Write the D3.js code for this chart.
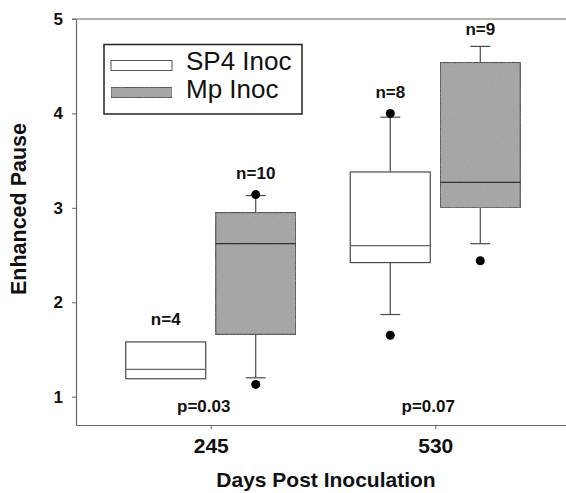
<!DOCTYPE html>
<html>
<head>
<meta charset="utf-8">
<script src="https://cdn.jsdelivr.net/npm/d3@7"></script>
<style>
  html, body { margin: 0; padding: 0; background: #fff; }
  svg { display: block; font-family: "Liberation Sans", Arial, sans-serif; }
</style>
</head>
<body>
<svg id="chart" width="566" height="493"></svg>
<script>
// ---- data ----
const categories = ["245", "530"];
const series = ["SP4 Inoc", "Mp Inoc"];
// box stats per category, per series
const sp4Q1 = [1.19, 2.42];
const sp4Median = [1.29, 2.60];
const sp4Q3 = [1.58, 3.38];
const sp4WhiskerLow = [null, 1.87];
const sp4WhiskerHigh = [null, 3.96];
const sp4Outliers = [[], [1.65, 4.00]];
const sp4N = [4, 8];

const mpQ1 = [1.66, 3.00];
const mpMedian = [2.62, 3.27];
const mpQ3 = [2.95, 4.54];
const mpWhiskerLow = [1.20, 2.62];
const mpWhiskerHigh = [3.13, 4.71];
const mpOutliers = [[1.13, 3.14], [2.44]];
const mpN = [10, 9];

const pValues = ["p=0.03", "p=0.07"];
const yTicks = [1, 2, 3, 4, 5];

(function () {
// ---- build table ----
const boxes = [];
categories.forEach((c, i) => {
  boxes.push({cat: c, s: series[0], q1: sp4Q1[i], med: sp4Median[i], q3: sp4Q3[i],
    lo: sp4WhiskerLow[i], hi: sp4WhiskerHigh[i], out: sp4Outliers[i], n: sp4N[i]});
  boxes.push({cat: c, s: series[1], q1: mpQ1[i], med: mpMedian[i], q3: mpQ3[i],
    lo: mpWhiskerLow[i], hi: mpWhiskerHigh[i], out: mpOutliers[i], n: mpN[i]});
});

const fills = {"SP4 Inoc": "#ffffff", "Mp Inoc": "#a4a4a4"};
const ink = "#111";

const svg = d3.select("#chart");

// noise texture for grey fill
const defs = svg.append("defs");
const f = defs.append("filter").attr("id", "grain").attr("x", 0).attr("y", 0).attr("width", 1).attr("height", 1);
f.append("feTurbulence").attr("type", "fractalNoise").attr("baseFrequency", 0.9).attr("numOctaves", 2).attr("seed", 3).attr("result", "noise");
f.append("feColorMatrix").attr("in", "noise").attr("type", "matrix")
  .attr("values", "0 0 0 0 0.5  0 0 0 0 0.5  0 0 0 0 0.5  0.35 0.35 0.35 0 -0.45").attr("result", "n2");
f.append("feComposite").attr("in", "n2").attr("in2", "SourceGraphic").attr("operator", "atop");

const pLeft = 76, pTop = 19, pBottom = 425, pRight = 570;

const x = d3.scalePoint().domain(categories).range([pLeft, pRight]).padding(0.6);
const xs = d3.scaleBand().domain(series).range([-85, 85]).paddingInner(1/9);
const y = d3.scaleLinear().domain([0.7, 5]).range([pBottom, pTop]);

// frame top line
svg.append("line").attr("x1", pLeft - 4).attr("x2", 566).attr("y1", pTop).attr("y2", pTop)
  .attr("stroke", "#666").attr("stroke-width", 1.2);

// y axis
const gy = svg.append("g").attr("transform", `translate(${pLeft},0)`)
  .call(d3.axisLeft(y).tickValues(yTicks).tickFormat(d3.format("d")).tickSize(4).tickSizeOuter(0).tickPadding(9));
gy.select(".domain").attr("stroke", "#666").attr("stroke-width", 1.2);
gy.selectAll(".tick line").attr("stroke", "#666");
gy.selectAll(".tick text").attr("font-size", 17).attr("font-weight", "bold").attr("fill", ink)
  .attr("font-family", "Liberation Sans, Arial, sans-serif");

// x axis
const gx = svg.append("g").attr("transform", `translate(0,${pBottom})`)
  .call(d3.axisBottom(x).tickSize(4).tickSizeOuter(0).tickPadding(9));
gx.select(".domain").attr("stroke", "#666").attr("stroke-width", 1.2);
gx.selectAll(".tick line").attr("stroke", "#666");
gx.selectAll(".tick text").attr("font-size", 21).attr("font-weight", "bold").attr("fill", ink)
  .attr("font-family", "Liberation Sans, Arial, sans-serif");

// axis titles
svg.append("text").attr("x", 326).attr("y", 487).attr("text-anchor", "middle")
  .attr("font-size", 21).attr("font-weight", "bold").attr("fill", ink).text("Days Post Inoculation");
svg.append("text").attr("transform", `translate(26,209) rotate(-90)`).attr("text-anchor", "middle")
  .attr("font-size", 21.5).attr("font-weight", "bold").attr("fill", ink).text("Enhanced Pause");

// boxes
const g = svg.append("g");
boxes.forEach(b => {
  const x0 = x(b.cat) + xs(b.s);
  const w = xs.bandwidth();
  const cx = x0 + w / 2;
  const gb = g.append("g");
  const stroke = "#4a4a4a";
  if (b.hi != null) {
    gb.append("line").attr("x1", cx).attr("x2", cx).attr("y1", y(b.q3)).attr("y2", y(b.hi)).attr("stroke", stroke).attr("stroke-width", 1.2);
    gb.append("line").attr("x1", cx - 10).attr("x2", cx + 10).attr("y1", y(b.hi)).attr("y2", y(b.hi)).attr("stroke", stroke).attr("stroke-width", 1.2);
  }
  if (b.lo != null) {
    gb.append("line").attr("x1", cx).attr("x2", cx).attr("y1", y(b.q1)).attr("y2", y(b.lo)).attr("stroke", stroke).attr("stroke-width", 1.2);
    gb.append("line").attr("x1", cx - 10).attr("x2", cx + 10).attr("y1", y(b.lo)).attr("y2", y(b.lo)).attr("stroke", stroke).attr("stroke-width", 1.2);
  }
  const r = gb.append("rect").attr("x", x0).attr("y", y(b.q3)).attr("width", w).attr("height", y(b.q1) - y(b.q3))
    .attr("fill", fills[b.s]).attr("stroke", stroke).attr("stroke-width", 1.2);
  if (b.s === series[1]) r.attr("filter", "url(#grain)");
  gb.append("line").attr("x1", x0).attr("x2", x0 + w).attr("y1", y(b.med)).attr("y2", y(b.med))
    .attr("stroke", b.s === series[1] ? "#333" : "#666").attr("stroke-width", 1.2);
  b.out.forEach(o => {
    gb.append("circle").attr("cx", cx).attr("cy", y(o)).attr("r", 4.5).attr("fill", "#000");
  });
  const topVal = d3.max([b.q3, b.hi == null ? -Infinity : b.hi, ...b.out]);
  const extra = b.out.length && d3.max(b.out) >= topVal ? 4.5 : 0;
  const noWhisk = b.hi == null ? 6 : 0;
  gb.append("text").attr("x", cx).attr("y", y(topVal) - extra - 11 - noWhisk).attr("text-anchor", "middle")
    .attr("font-size", 17).attr("font-weight", "bold").attr("fill", ink).text("n=" + b.n);
});

// p values
categories.forEach((c, i) => {
  svg.append("text").attr("x", x(c) - 7).attr("y", pBottom - 13).attr("text-anchor", "middle")
    .attr("font-size", 17).attr("font-weight", "bold").attr("fill", ink).text(pValues[i]);
});

// legend
const lg = svg.append("g");
lg.append("rect").attr("x", 104).attr("y", 44.5).attr("width", 198).attr("height", 69.5)
  .attr("fill", "#fff").attr("stroke", "#222").attr("stroke-width", 1.5);
series.forEach((s, i) => {
  const rr = lg.append("rect").attr("x", 111).attr("y", 60.5 + i * 27).attr("width", 61).attr("height", 10)
    .attr("fill", fills[s]).attr("stroke", "#555").attr("stroke-width", 1);
  if (i === 1) rr.attr("filter", "url(#grain)");
  lg.append("text").attr("x", 186).attr("y", 70 + i * 28).attr("font-size", 26).attr("fill", ink).text(s);
});
})();
</script>
</body>
</html>
